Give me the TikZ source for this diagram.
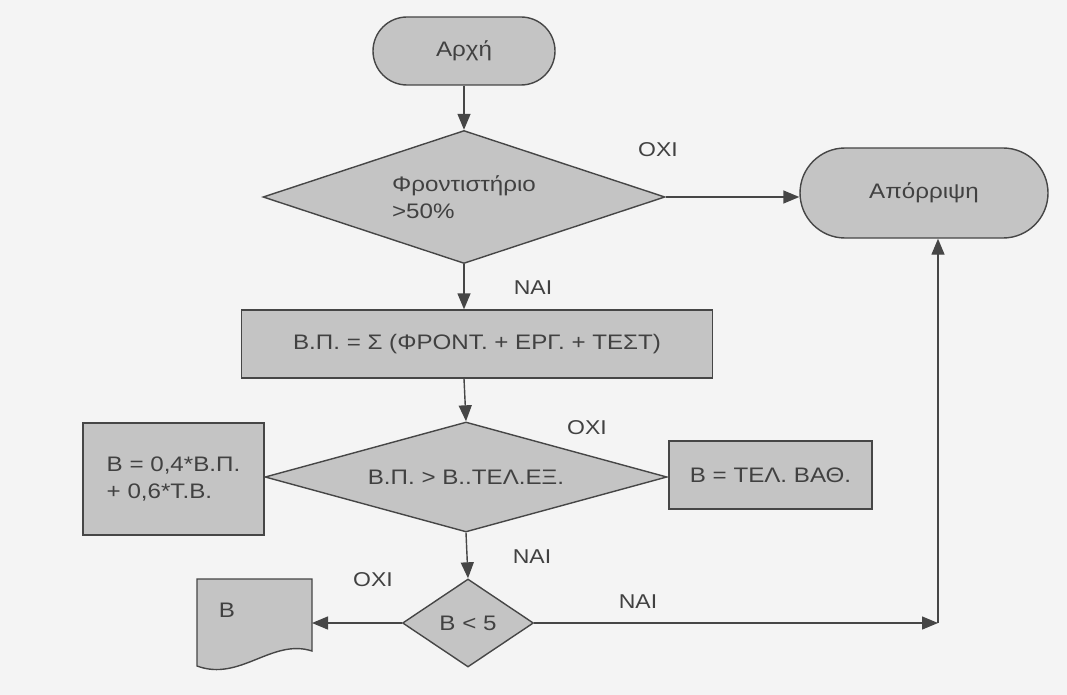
\documentclass[tikz,border=0pt]{standalone}
\usepackage{fontspec}
\setmainfont{Liberation Sans}[FakeStretch=1.15]
\usetikzlibrary{shapes.geometric,arrows.meta}
\definecolor{paper}{RGB}{244,244,244}
\definecolor{boxfill}{RGB}{196,196,196}
\definecolor{ink}{RGB}{70,70,70}
\definecolor{txt}{RGB}{65,65,65}
\tikzset{
  flowtip/.tip={Triangle[length=16pt,width=13pt]},
}
\begin{document}
\begin{tikzpicture}[x=1pt,y=-1pt,
  every node/.style={text=txt,font=\fontsize{21}{27}\selectfont},
  base/.style={draw=ink,line width=1.4pt,fill=boxfill,inner sep=0pt},
  terminal/.style={base,rounded corners=#1,minimum height=2*#1},
  procbox/.style={base,rectangle},
  decision/.style={base,diamond},
  lbl/.style={font=\fontsize{20}{24}\selectfont},
  flow/.style={draw=ink,line width=1.4pt,-flowtip}]
\fill[paper] (0,0) rectangle (1067,695);
\useasboundingbox (0,0) rectangle (1067,695);

% start and reject terminals
\node[terminal=34pt,minimum width=182pt] (start) at (464,51) {Αρχή};
\node[terminal=45pt,minimum width=248pt] (rej) at (924,193) {Απόρριψη};

% first test
\node[decision,aspect=3.02,minimum width=402pt,minimum height=133pt,align=left] (d1) at (464,197)
  {Φροντιστήριο\\>50\%};

% total mark
\node[procbox,minimum width=471pt,minimum height=68pt] (sum) at (477,344)
  {Β.Π. = Σ (ΦΡΟΝΤ. + ΕΡΓ. + ΤΕΣΤ)};

% second test with its two outcomes
\node[decision,aspect=3.65,minimum width=402pt,minimum height=110pt] (d2) at (466,477)
  {Β.Π. > Β..ΤΕΛ.ΕΞ.};
\node[procbox,minimum width=181pt,minimum height=112pt,align=left] (mix) at (173.5,479)
  {Β = 0,4*Β.Π.\\+ 0,6*Τ.Β.};
\node[procbox,minimum width=203pt,minimum height=68pt] (fin) at (770.5,475)
  {Β = ΤΕΛ. ΒΑΘ.};

% pass test
\node[decision,aspect=1.49,minimum width=131pt,minimum height=88pt] (d3) at (468,623) {Β < 5};

% output document
\draw[base] (197,579) -- (312,579) -- (312,651)
  .. controls (272,638) and (240,682) .. (197,666) -- cycle;
\node (doc) at (227,610) {Β};
\coordinate (docR) at (312,623);

% connectors
\draw[flow] (start.south) -- (d1.north);
\draw[flow] (d1.east) -- (d1.east -| rej.west);
\draw[flow] (d1.south) -- (d1.south |- sum.north);
\draw[flow] (d1.south |- sum.south) -- (d2.north);
\draw[flow] (d2.south) -- (d3.north);
\draw[flow] (d3.west) -- (docR);
\coordinate (corner) at (938,623);
\draw[flow] (d3.east) -- (corner);
\draw[flow] (corner) -- (corner |- rej.south);

% branch labels
\node[lbl] (l1) at (658,150) {ΟΧΙ};
\node[lbl] (l2) at (533,288) {ΝΑΙ};
\node[lbl] (l3) at (587,428) {ΟΧΙ};
\node[lbl] (l4) at (532,557) {ΝΑΙ};
\node[lbl] (l5) at (373,580) {ΟΧΙ};
\node[lbl] (l6) at (638,602) {ΝΑΙ};
\end{tikzpicture}
\end{document}
